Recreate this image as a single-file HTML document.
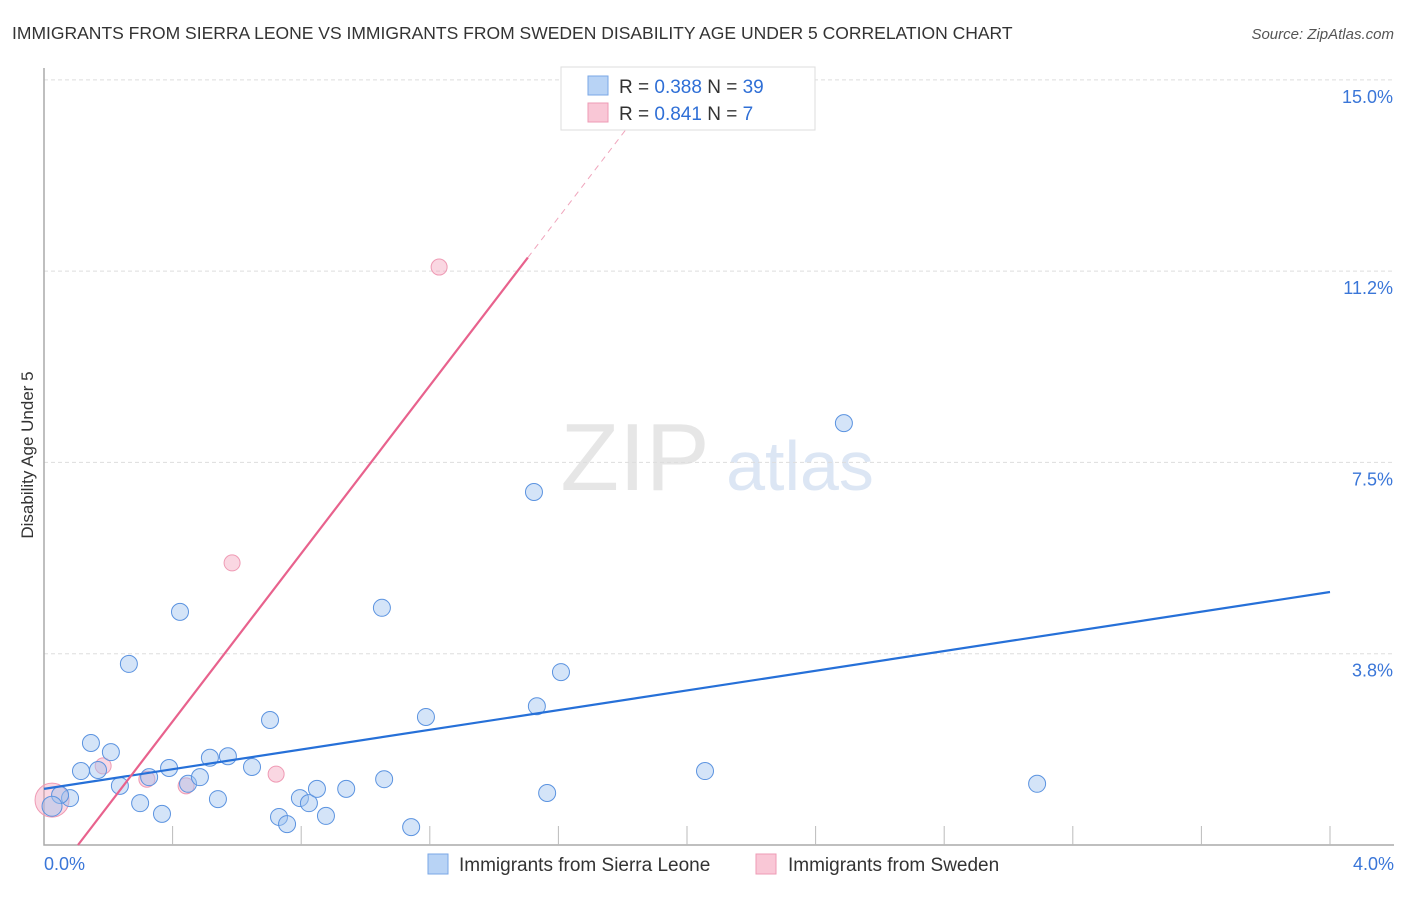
<!DOCTYPE html>
<html><head><meta charset="utf-8"><style>
body{margin:0;background:#fff;font-family:"Liberation Sans",sans-serif}
svg text{font-family:"Liberation Sans",sans-serif}
</style></head><body>
<svg id="c" width="1406" height="892">
<text x="12" y="39" font-size="17.5" fill="#333">IMMIGRANTS FROM SIERRA LEONE VS IMMIGRANTS FROM SWEDEN DISABILITY AGE UNDER 5 CORRELATION CHART</text>
<text x="1394" y="39" font-size="15" fill="#555" font-style="italic" text-anchor="end">Source: ZipAtlas.com</text>
<text x="33" y="455" font-size="17" fill="#333" text-anchor="middle" transform="rotate(-90 33 455)">Disability Age Under 5</text>
<g><text x="635" y="490" font-size="96" fill="#e6e6e6" font-family="Liberation Serif" text-anchor="middle">ZIP</text><text x="800" y="490" font-size="70" fill="#dce6f4" text-anchor="middle">atlas</text></g>
<g id="grid"></g><g id="marks"></g>
<g>
<rect x="561" y="67" width="254" height="63" fill="#fff" stroke="#ddd"/>
<rect x="588" y="76" width="20" height="19" fill="#b8d3f5" stroke="#7aa7e6"/>
<rect x="588" y="103" width="20" height="19" fill="#f9c7d6" stroke="#ee9bb5"/>
<text x="619" y="93" font-size="19" fill="#333">R = <tspan fill="#2f6fd6">0.388</tspan>   N = <tspan fill="#2f6fd6">39</tspan></text>
<text x="619" y="120" font-size="19" fill="#333">R = <tspan fill="#2f6fd6"> 0.841</tspan>   N = <tspan fill="#2f6fd6">  7</tspan></text>
</g>
<g>
<rect x="428" y="854" width="20" height="20" fill="#b8d3f5" stroke="#7aa7e6"/>
<text x="459" y="871" font-size="19" fill="#333">Immigrants from Sierra Leone</text>
<rect x="756" y="854" width="20" height="20" fill="#f9c7d6" stroke="#ee9bb5"/>
<text x="788" y="871" font-size="19" fill="#333">Immigrants from Sweden</text>
</g>
</svg>
<script>
const yTicks=[15.0,11.2,7.5,3.8];
const yTickVals=[15,11.25,7.5,3.75];
const xTickLabels=["0.0%","4.0%"];
const blueX=[0.081,0.050,0.115,0.146,0.168,0.208,0.236,0.264,0.299,0.327,0.367,0.389,0.423,0.448,0.485,0.516,0.541,0.572,0.647,0.703,0.731,0.756,0.796,0.824,0.849,0.877,0.940,1.051,1.058,1.142,1.188,1.524,1.533,1.565,1.608,2.056,2.488,3.089,0.025];
const blueY=[0.92,0.98,1.45,2.00,1.47,1.82,1.16,3.55,0.82,1.33,0.61,1.51,4.57,1.20,1.33,1.71,0.90,1.74,1.53,2.45,0.55,0.41,0.92,0.82,1.10,0.57,1.10,4.65,1.29,0.35,2.51,6.92,2.72,1.02,3.39,1.45,8.27,1.20,0.76];
const pinkX=[0.025,0.184,0.320,0.442,0.585,0.722,1.229];
const pinkY=[0.88,1.55,1.29,1.16,5.53,1.39,11.33];
const pinkR=[17,8,8,8,8,8,8];
const blueTrend=[1.10,0.965];   // intercept, slope
const pinkTrend=[-0.87,8.23];
const X=v=>44+v*321.5, Y=v=>845-v*51.01;
const NS="http://www.w3.org/2000/svg";
const g=document.getElementById('grid'), m=document.getElementById('marks');
function mk(p,t,a){const e=document.createElementNS(NS,t);for(const k in a)e.setAttribute(k,a[k]);p.appendChild(e);return e;}
yTickVals.forEach((v,i)=>{
 const l=mk(g,'line',{x1:44,x2:1394,y1:Y(v),y2:Y(v),stroke:'#ddd','stroke-dasharray':'4 3'});
 
 
 const t=mk(g,'text',{x:1393,y:Y(v)+23,'font-size':18,fill:'#3a76d8','text-anchor':'end'});t.textContent=yTicks[i].toFixed(1)+'%';
 
 
});
const ax=mk(g,'path',{d:'M44 68V845H1394',fill:'none',stroke:'#aaa','stroke-width':1.5});


for(let i=1;i<=10;i++){const l=mk(g,'line',{x1:X(i*0.4),x2:X(i*0.4),y1:826,y2:845,stroke:'#bbb'});
 
 }
[[0,'start',44],[4,'end',1394]].forEach((d,i)=>{const t=mk(g,'text',{x:d[2],y:870,'font-size':18,fill:'#3a76d8','text-anchor':d[1]});t.textContent=xTickLabels[i];
 
 });
pinkX.forEach((x,i)=>{const c=mk(m,'circle',{cx:X(x),cy:Y(pinkY[i]),r:pinkR[i],fill:'rgba(244,167,191,0.45)',stroke:'#ef9ab4','stroke-width':1});
 
 });
blueX.forEach((x,i)=>{const c=mk(m,'circle',{cx:X(x),cy:Y(blueY[i]),r:i==38?10:8.5,fill:'rgba(160,196,240,0.45)',stroke:'#5b93e0','stroke-width':1});
 
 });
const bl=mk(m,'line',{x1:X(0),y1:Y(blueTrend[0]),x2:X(4),y2:Y(blueTrend[0]+4*blueTrend[1]),stroke:'#2670d8','stroke-width':2.2});


const x0=-pinkTrend[0]/pinkTrend[1], x1=1.505, x2=1.82;
const pl=mk(m,'line',{x1:X(x0),y1:Y(0),x2:X(x1),y2:Y(pinkTrend[0]+x1*pinkTrend[1]),stroke:'#e8628d','stroke-width':2.2});


const pd=mk(m,'line',{x1:X(x1),y1:Y(pinkTrend[0]+x1*pinkTrend[1]),x2:X(x2),y2:Y(pinkTrend[0]+x2*pinkTrend[1]),stroke:'#f0a5bc','stroke-width':1,'stroke-dasharray':'6 5'});


</script>
</body></html>
